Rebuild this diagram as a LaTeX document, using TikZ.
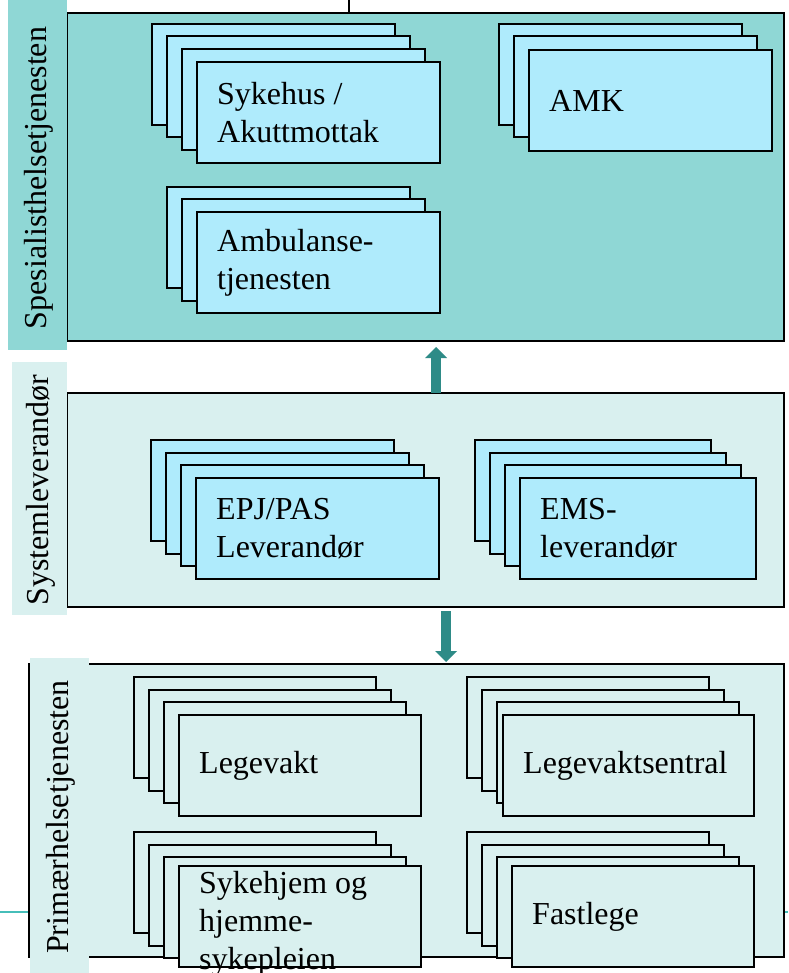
\documentclass[tikz,border=0pt]{standalone}
\usepackage{fontspec}
\setmainfont{Liberation Serif}
\usetikzlibrary{arrows.meta}
\definecolor{spesfill}{RGB}{143,215,213}
\definecolor{lightfill}{RGB}{217,240,239}
\definecolor{cardblue}{RGB}{175,235,252}
\definecolor{arrowteal}{RGB}{46,139,135}
\definecolor{rulerteal}{RGB}{70,190,185}
\newcommand{\boxfont}{\fontsize{32}{38}\selectfont}
% back cards of a stack: first corner, number, width, fill
\newcommand{\backcards}[5]{
  \foreach \i in {1,...,#3}
    \draw[card=#5] ({#1+15*(\i-1)},{#2+12.5*(\i-1)}) rectangle ++(#4,101);}

\begin{document}
\begin{tikzpicture}[x=1pt, y=-1pt,
  panel/.style={draw, line width=1.5pt, anchor=north west, outer sep=0pt, inner sep=0pt},
  card/.style={draw, line width=2pt, fill=#1},
  card/.default=cardblue,
  front/.style={anchor=north west, outer sep=0pt, inner sep=0pt, minimum height=101pt},
  boxtext/.style={font=\boxfont, align=left, inner sep=0pt},
  sidelabel/.style={font=\boxfont, rotate=90, inner sep=0pt},
  flow/.style={draw=arrowteal, line width=10pt, -{Triangle[width=22pt, length=11pt, line width=0pt]}}]
\useasboundingbox (0,0) rectangle (788,973);

% slide line
\draw[rulerteal, line width=2pt] (0,912) -- (788,912);

% panels
\node[panel, fill=spesfill, minimum width=717pt, minimum height=328pt] (spes) at (67,13) {};
\node[panel, fill=lightfill, minimum width=717pt, minimum height=214pt] (sys) at (67,393) {};
\node[panel, fill=lightfill, minimum width=755pt, minimum height=293pt] (prim) at (29,664) {};

% feed from above
\coordinate (feed) at (349,0);
\draw[line width=1.5pt] (feed) -- (feed |- spes.north);

% side strips and labels
\fill[spesfill] (8,0) rectangle (67,350);
\fill[lightfill] (12,362) rectangle (67,615);
\fill[lightfill] (30,658) rectangle (89,973);
\node[sidelabel] (spes label) at (39,178) {Spesialisthelsetjenesten};
\node[sidelabel] (sys label) at (41,490) {Systemleverandør};
\node[sidelabel] (prim label) at (61,817) {Primærhelsetjenesten};

% Sykehus / Akuttmottak
\backcards{152}{24}{3}{243}{cardblue}
\node[card, front, minimum width=243pt] (syk) at (197,62) {};
\node[boxtext, anchor=west, xshift=20pt] (syk text) at (syk.west) {Sykehus /\\Akuttmottak};

% AMK
\backcards{499}{24}{2}{243}{cardblue}
\node[card, front, minimum width=243pt] (amk) at (529,50) {};
\node[boxtext, anchor=west, xshift=20pt] (amk text) at (amk.west) {AMK};

% Ambulansetjenesten
\backcards{167}{187}{2}{243}{cardblue}
\node[card, front, minimum width=243pt] (amb) at (197,212) {};
\node[boxtext, anchor=west, xshift=20pt] (amb text) at (amb.west) {Ambulanse-\\tjenesten};

% EPJ/PAS
\backcards{151}{440}{3}{243}{cardblue}
\node[card, front, minimum width=243pt] (epj) at (196,478) {};
\node[boxtext, anchor=west, xshift=20pt] (epj text) at (epj.west) {EPJ/PAS\\Leverandør};

% EMS
\backcards{475}{440}{3}{236}{cardblue}
\node[card, front, minimum width=236pt] (ems) at (520,478) {};
\node[boxtext, anchor=west, xshift=20pt] (ems text) at (ems.west) {EMS-\\leverandør};

% Legevakt
\backcards{134}{677}{3}{242}{lightfill}
\node[card=lightfill, front, minimum width=242pt] (lv) at (179,715) {};
\node[boxtext, anchor=west, xshift=20pt] (lv text) at (lv.west) {Legevakt};

% Legevaktsentral
\backcards{467}{677}{3}{242}{lightfill}
\node[card=lightfill, front, minimum width=251pt] (lvs) at (503,715) {};
\node[boxtext, anchor=west, xshift=20pt] (lvs text) at (lvs.west) {Legevaktsentral};

% Sykehjem
\backcards{134}{832}{3}{242}{lightfill}
\node[card=lightfill, front, minimum width=242pt] (hjem) at (179,866) {};
\node[boxtext, anchor=north west, xshift=20pt, yshift=-5pt] (hjem text) at (hjem.north west) {Sykehjem og\\hjemme-\\sykepleien};

% Fastlege
\backcards{467}{832}{3}{242}{lightfill}
\node[card=lightfill, front, minimum width=242pt] (fast) at (512,866) {};
\node[boxtext, anchor=west, xshift=20pt] (fast text) at (fast.west) {Fastlege};

% arrows
\coordinate (up) at (436,0);
\coordinate (down) at (446,0);
\draw[flow, shorten >=6pt] (sys.north -| up) -- (spes.south -| up);
\draw[flow, shorten <=4pt, shorten >=2pt] (sys.south -| down) -- (prim.north -| down);

\end{tikzpicture}
\end{document}
